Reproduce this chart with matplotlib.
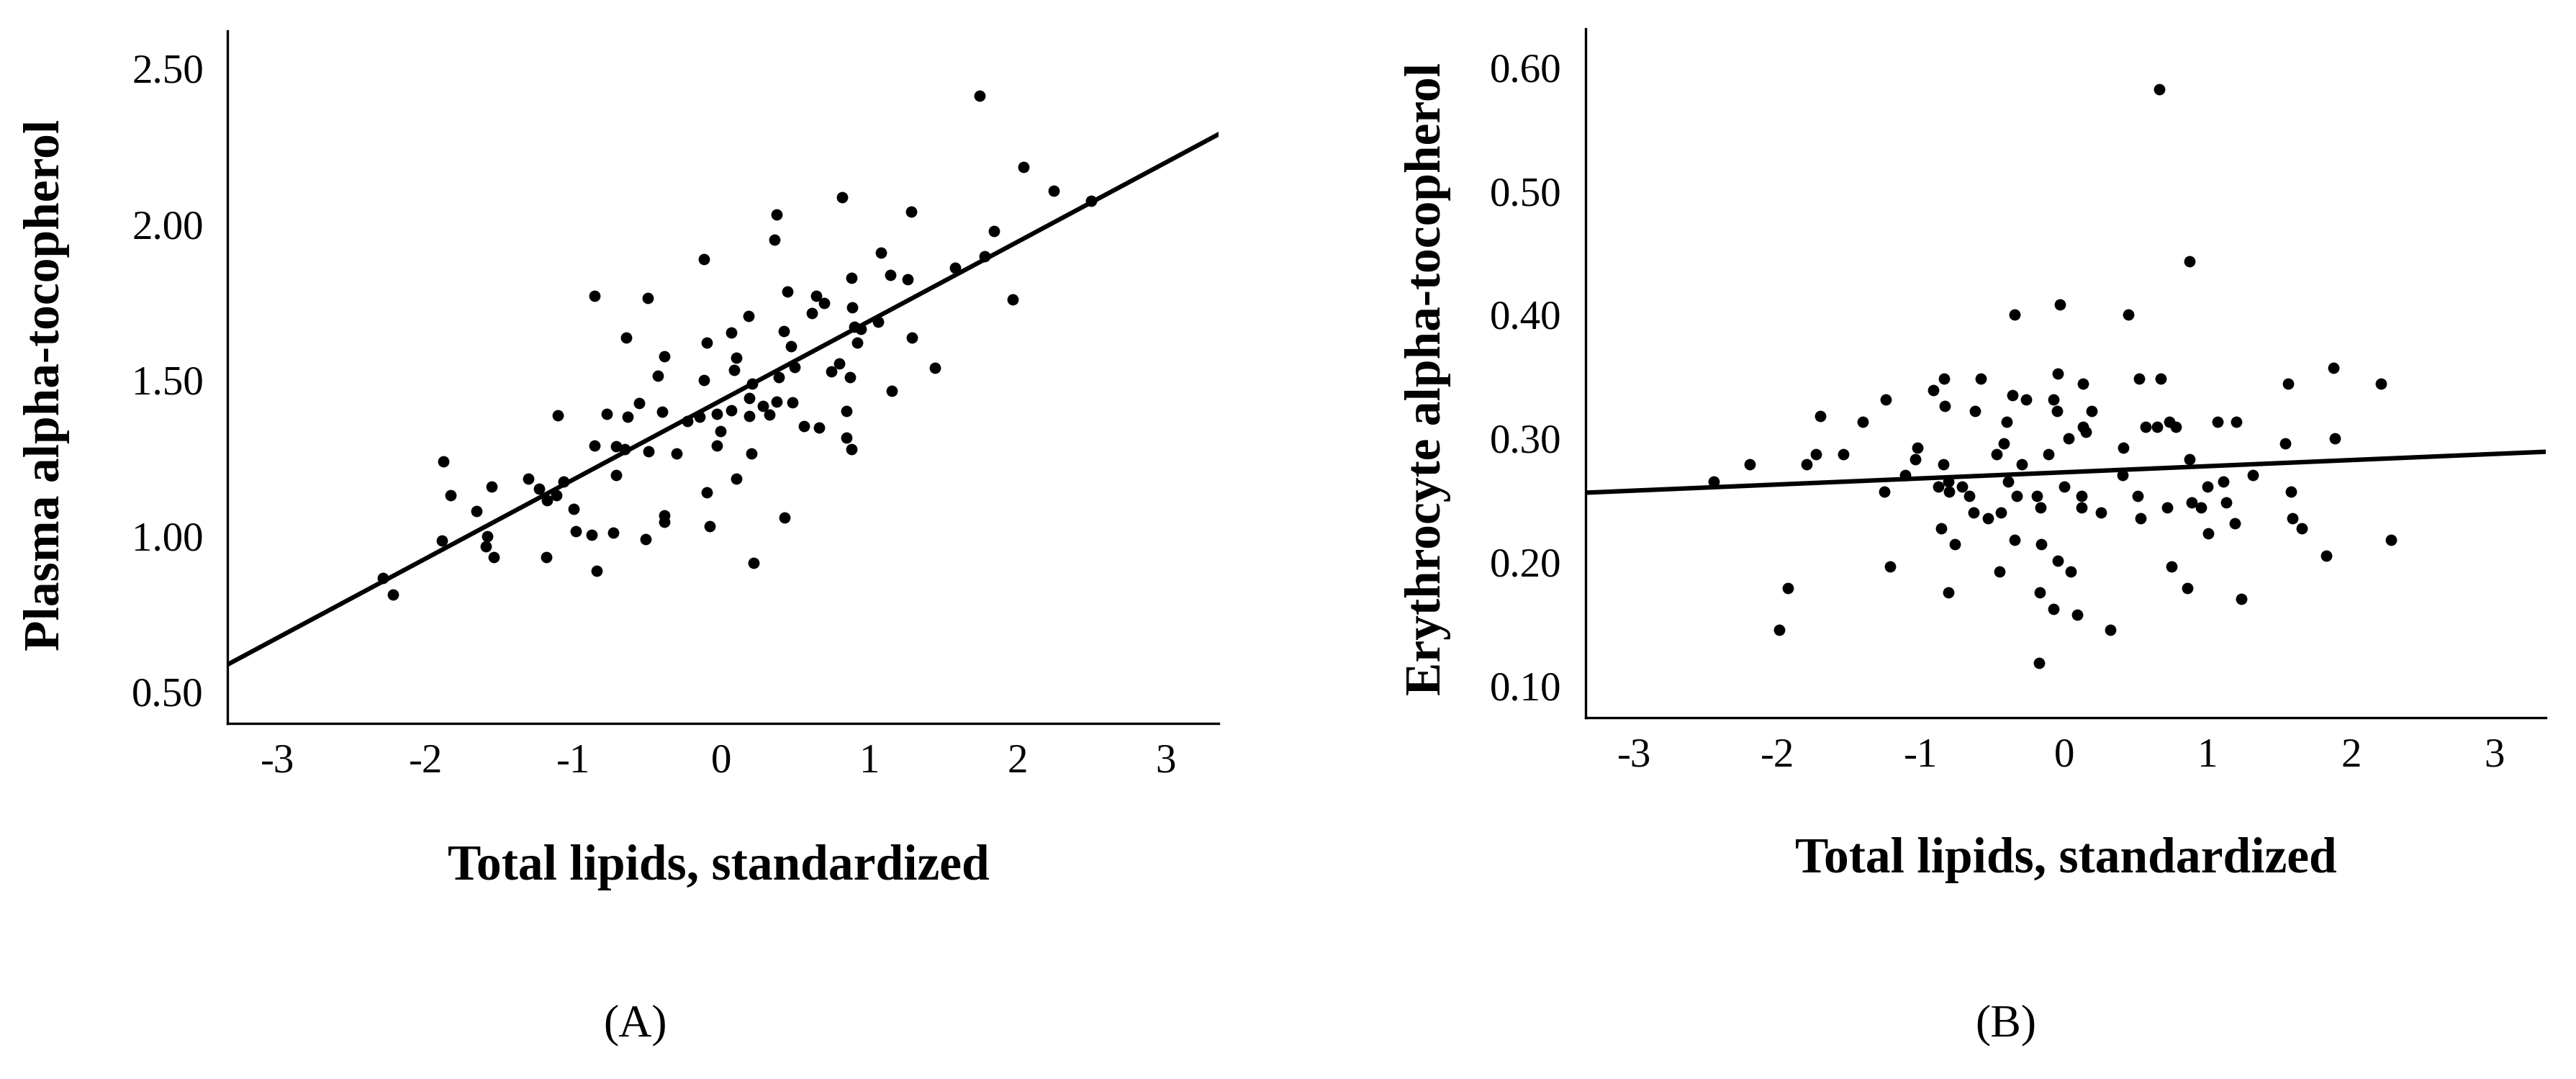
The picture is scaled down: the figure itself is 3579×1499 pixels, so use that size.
import numpy as np
import matplotlib.pyplot as plt

# panel A: plasma alpha-tocopherol vs total lipids
plasma_x = [1.744, 2.039, 2.244, 2.5, 0.817, 1.283, 0.372, 1.844, 0.356, 1.078,
            -0.117, 1.578, 1.778, 1.139, 1.256, 0.878, -0.861, -0.5, 0.444, 0.639,
            0.694, 1.967, 0.611, 0.183, 0.883, 1.056, 0.9, 0.944, 0.422, 0.067,
            -0.644, 1.289, -0.1, 0.917, 0.472, -0.389, 0.1, 0.083, 0.494, 0.744,
            0.794, 1.444, -0.433, 0.389, 0.867, -0.117, 0.206, 1.15, -0.556, 0.189,
            0.372, 0.478, -0.778, -0.4, -0.633, -0.15, -0.033, 0.067, 0.189, 0.278,
            0.322, 0.844, -0.233, -1.106, 0.556, 0.661, -0.006, -0.861, -0.711, -0.656,
            -0.494, -0.033, 0.844, 0.878, -0.306, 0.2, -1.883, -1.306, -0.711, 0.1,
            -1.556, -1.067, -1.233, -1.833, -1.117, -1.178, -0.1, -1.656, -1.0, -0.389,
            0.428, -0.389, -0.078, -0.983, -0.878, -0.733, -1.583, -1.889, -0.511, -1.594,
            -1.539, -1.183, 0.217, -0.844, -2.289, -2.222]
plasma_y = [2.412, 2.184, 2.108, 2.075, 2.086, 2.040, 2.031, 1.978, 1.949, 1.909,
            1.887, 1.861, 1.896, 1.836, 1.823, 1.827, 1.770, 1.763, 1.783, 1.770,
            1.746, 1.759, 1.715, 1.706, 1.732, 1.686, 1.670, 1.664, 1.657, 1.653,
            1.637, 1.637, 1.619, 1.619, 1.608, 1.577, 1.571, 1.533, 1.542, 1.527,
            1.553, 1.538, 1.513, 1.509, 1.509, 1.500, 1.487, 1.465, 1.425, 1.442,
            1.431, 1.429, 1.392, 1.398, 1.381, 1.383, 1.392, 1.403, 1.385, 1.416,
            1.389, 1.400, 1.367, 1.387, 1.352, 1.347, 1.336, 1.290, 1.288, 1.279,
            1.272, 1.290, 1.316, 1.277, 1.265, 1.265, 1.239, 1.184, 1.195, 1.184,
            1.157, 1.173, 1.150, 1.130, 1.130, 1.115, 1.139, 1.080, 1.086, 1.066,
            1.058, 1.044, 1.031, 1.015, 1.004, 1.011, 0.998, 0.985, 0.989, 0.967,
            0.931, 0.931, 0.914, 0.887, 0.865, 0.812]
plasma_fit = (0.254, 1.435)  # slope, intercept

# panel B: erythrocyte alpha-tocopherol vs total lipids
ery_x = [0.663, 0.874, -0.029, -0.349, 0.446, 1.88, -0.046, -0.84, -0.583, 0.52,
         0.674, 0.131, 1.56, 2.211, -0.914, -0.36, -0.269, -1.246, -0.074, -0.834,
         -0.623, -0.051, 0.189, -1.703, -1.406, -0.4, 0.731, 1.069, 1.2, 0.566,
         0.646, 0.777, 0.131, 0.149, 0.029, 1.886, -0.423, 1.543, 0.411, -1.023,
         -0.109, -0.474, -1.731, -1.543, -1.04, 0.874, -2.194, -1.8, -0.846, -0.297,
         1.314, -1.109, 0.406, -2.446, -0.394, 1.109, -0.811, -0.88, -0.714, 0.0,
         1.0, -1.257, -0.806, 1.583, -0.663, -0.331, -0.189, 0.12, 0.514, 0.891,
         1.131, 0.72, 0.954, 0.12, -0.166, -0.634, -0.44, 0.257, -0.531, 0.531,
         1.594, 1.189, -0.857, 1.657, 1.006, -0.349, 2.28, -0.766, -0.16, 1.829,
         -0.046, -1.217, 0.749, -0.451, 0.046, -1.931, 0.857, -0.811, -0.171, 1.234,
         -0.074, 0.091, -1.989, 0.32, -0.177]
ery_y = [0.582, 0.443, 0.408, 0.400, 0.400, 0.357, 0.352, 0.348, 0.348, 0.348,
         0.348, 0.344, 0.344, 0.344, 0.339, 0.335, 0.331, 0.331, 0.331, 0.326,
         0.322, 0.322, 0.322, 0.318, 0.313, 0.313, 0.313, 0.313, 0.313, 0.309,
         0.309, 0.309, 0.309, 0.305, 0.300, 0.300, 0.296, 0.296, 0.292, 0.292,
         0.287, 0.287, 0.287, 0.287, 0.283, 0.283, 0.279, 0.279, 0.279, 0.279,
         0.270, 0.270, 0.270, 0.265, 0.265, 0.265, 0.265, 0.261, 0.261, 0.261,
         0.261, 0.257, 0.257, 0.257, 0.253, 0.253, 0.253, 0.253, 0.253, 0.248,
         0.248, 0.244, 0.244, 0.244, 0.244, 0.240, 0.240, 0.240, 0.235, 0.235,
         0.235, 0.231, 0.227, 0.227, 0.223, 0.218, 0.218, 0.214, 0.214, 0.205,
         0.201, 0.196, 0.196, 0.192, 0.192, 0.179, 0.179, 0.175, 0.175, 0.170,
         0.162, 0.157, 0.145, 0.145, 0.118]
ery_fit = (0.00494, 0.2724)

x_ticks = [-3, -2, -1, 0, 1, 2, 3]
plasma_ticks = [0.5, 1.0, 1.5, 2.0, 2.5]
ery_ticks = [0.1, 0.2, 0.3, 0.4, 0.5, 0.6]

plt.rcParams['font.family'] = ['Liberation Serif', 'DejaVu Serif']

fig = plt.figure(figsize=(35.8, 14.99), dpi=100)
axA = fig.add_axes([0.0883, 0.3296, 0.3846, 0.6417])
axB = fig.add_axes([0.6154, 0.3349, 0.3726, 0.6384])


def panel(ax, xs, ys, fit, yticks, ylim, fmt):
    ax.scatter(xs, ys, s=130, color='black', linewidths=0, zorder=3)
    xl = (-3.34, 3.36)
    xx = np.array(xl)
    ax.plot(xx, fit[0] * xx + fit[1], color='black', lw=4.5, zorder=2)
    ax.set_xlim(xl)
    ax.set_ylim(ylim)
    ax.set_xticks(x_ticks)
    ax.set_xticklabels([str(t) for t in x_ticks])
    ax.set_yticks(yticks)
    ax.set_yticklabels([fmt % t for t in yticks])
    for s in ['top', 'right']:
        ax.spines[s].set_visible(False)
    for s in ['left', 'bottom']:
        ax.spines[s].set_linewidth(2.4)
    ax.tick_params(axis='both', length=0, labelsize=41)
    ax.tick_params(axis='x', pad=20)
    ax.tick_params(axis='y', pad=24)


panel(axA, plasma_x, plasma_y, plasma_fit, plasma_ticks, (0.398, 2.62), '%.2f')
panel(axB, ery_x, ery_y, ery_fit, ery_ticks, (0.074, 0.631), '%.2f')

fig.text(0.279, 0.196, 'Total lipids, standardized', fontsize=50, fontweight='bold',
         ha='center', va='center')
fig.text(0.8017, 0.203, 'Total lipids, standardized', fontsize=50, fontweight='bold',
         ha='center', va='center')
fig.text(0.0182, 1 - 535 / 1499, 'Plasma alpha-tocopherol', fontsize=50, fontweight='bold',
         ha='center', va='center', rotation=90)
fig.text(0.5542, 1 - 526 / 1499, 'Erythrocyte alpha-tocopherol', fontsize=50,
         fontweight='bold', ha='center', va='center', rotation=90)
fig.text(0.2464, 0.050, '(A)', fontsize=46, ha='center', va='center')
fig.text(0.7785, 0.050, '(B)', fontsize=46, ha='center', va='center')

fig.savefig('out.png', dpi=100, facecolor='white')
